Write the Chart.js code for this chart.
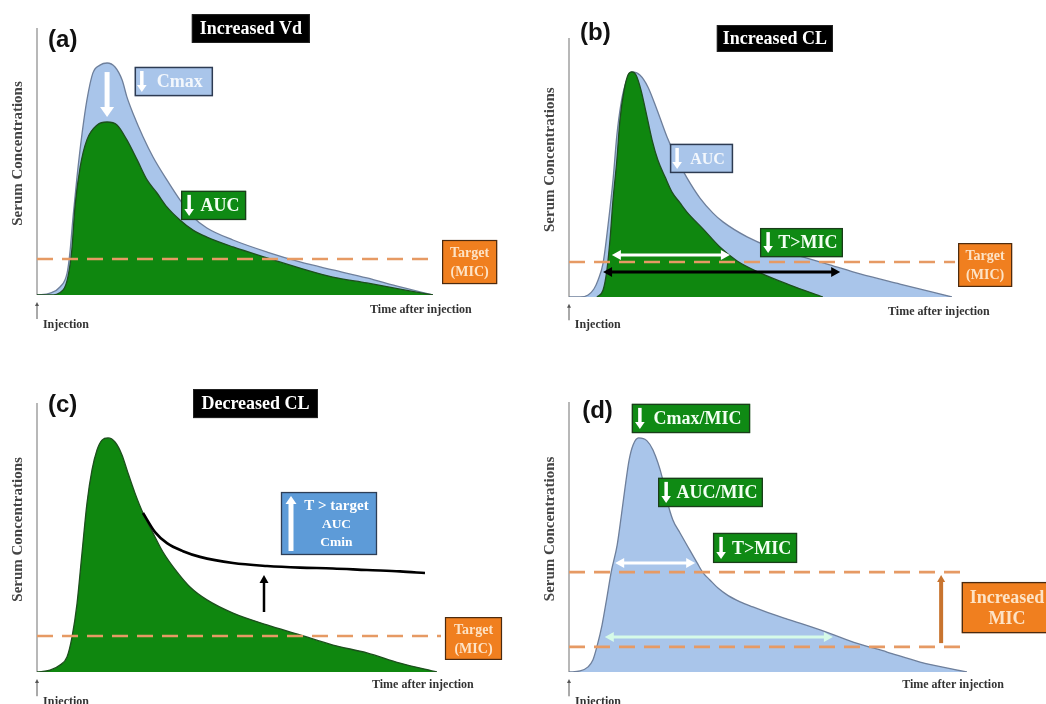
<!DOCTYPE html>
<html><head><meta charset="utf-8">
<script src="https://cdn.jsdelivr.net/npm/chart.js@4.4.1/dist/chart.umd.min.js"></script>
<style>
html,body{margin:0;padding:0;background:#fff;}
#wrap{position:relative;width:1046px;height:704px;overflow:hidden;background:#fff;}
canvas{position:absolute;}
</style></head><body>
<div id="wrap">
<canvas id="ca" width="523" height="352" style="left:0;top:0"></canvas>
<canvas id="cb" width="523" height="352" style="left:523px;top:0"></canvas>
<canvas id="cc" width="523" height="352" style="left:0;top:352px"></canvas>
<canvas id="cd" width="523" height="352" style="left:523px;top:352px"></canvas>
</div>
<script>
// ---------- DATA (time after injection, % of axis; serum concentration, % of axis) ----------
// Panel (a) Increased Vd
const aTimeBase = [0,3.3,5.8,7.6,8.3,9.1,10.1,11.4,12.6,14.1,15.9,17.7,19.7,21.5,22.7,24.2,26.8,29.3,32.8,36.1,39.4,42.9,49.5,58.1,66.4,74.7,83.3,91.7,100];
const aConcBase = [0,0.7,3.0,8.2,15.7,29.2,44.2,60.7,73.0,83.1,86.1,86.9,85.4,80.5,74.2,68.2,59.2,51.7,43.1,35.6,29.2,25.1,20.6,16.1,12.4,9.4,6.4,3.0,0];
const aTimeVd = [0,3.3,6.6,7.8,8.8,9.6,10.9,12.6,15.2,17.7,20.2,22.7,25.3,27.8,30.3,32.8,36.1,39.4,42.9,49.5,58.1,66.4,74.7,83.3,91.7,100];
const aConcVd = [0,0,1.9,6.7,16.9,33.0,47.9,58.1,63.7,64.8,63.7,58.1,50.6,43.1,38.2,33.0,28.1,24.3,21.7,18.0,13.9,10.1,6.7,4.5,2.2,0];
const aMIC = 13.5;
// Panel (b) Increased CL
const bTimeBase = [0,2.9,5.0,6.5,7.6,8.9,10.2,11.5,12.5,13.6,14.9,16.4,18.5,20.6,23.0,25.6,28.2,30.8,34.2,37.6,40.2,46.5,52.5,60.3,68.1,76.0,86.4,100];
const bConcBase = [0,0,0.8,3.1,6.6,13.1,27.8,45.2,62.5,74.9,83.0,86.9,85.7,81.1,72.2,61.8,53.2,46.0,38.2,32.4,29.0,23.2,19.3,15.8,12.4,8.9,5.0,0];
const bTimeCL = [7.3,8.9,9.9,10.7,11.5,12.5,13.3,14.4,15.4,16.4,17.5,18.8,20.1,21.7,23.2,25.1,26.9,29.0,30.8,35.0,39.4,43.9,49.9,57.7,66.3];
const bConcCL = [0,2.7,10.4,22.0,37.5,52.9,68.3,79.9,85.7,86.9,85.7,79.9,71.4,60.6,52.9,46.3,40.5,36.3,32.8,26.3,19.3,13.9,9.3,4.6,0];
const bMIC = 13.5;
// Panel (c) Decreased CL
const cTime = [0,3.25,5.75,7.5,8.75,10,11.25,12.5,13.75,15,16.25,17.75,19.5,21.25,22.5,24.5,26.5,29,31.5,35,38.25,42.5,49,57.5,65.75,74,82.5,90.75,100];
const cConc = [0,0.7,2.6,5.6,13.0,25.3,44.2,62.8,75.1,82.5,86.2,87.0,85.5,80.7,75.1,66.5,59.1,51.7,44.6,37.2,31.6,26.8,21.9,17.5,13.8,10.0,7.1,3.3,0];
const cTimeSlow = [26.5,29.5,32.5,36.5,40.75,49,57.5,65.75,74,82.5,90.75,97];
const cConcSlow = [59.1,52.0,47.9,44.9,42.8,40.5,39.4,38.8,38.5,37.9,37.4,36.8];
const cMIC = 13.4;
// Panel (d) Increased MIC
const dTime = [0,2.8,4.8,6.0,7.0,8.3,9.5,10.6,12.1,13.1,14.1,15.1,16.1,17.5,19.6,21.1,23.4,24.6,26.1,27.9,29.9,32.2,33.7,35.4,37.5,40.0,43.0,46.2,50.0,54.8,63.1,71.4,79.9,88.2,100];
const dConc = [0,0.4,1.9,4.4,9.3,17.4,27.4,37.0,47.0,57.4,68.5,78.5,84.1,86.7,85.6,82.2,72.2,63.7,56.3,51.5,46.3,40.4,36.7,34.1,31.0,28.3,26.0,24.1,22.0,19.6,15.6,11.1,7.4,3.7,0];
const dMICHigh = 37.0;
const dMICLow = 9.3;

// ---------- STYLE ----------
const GREEN = '#0f870f', GREEN_LINE = '#1d4f1d';
const BLUE = '#a9c5ea', BLUE_LINE = '#6e7f9b';
const DASH = '#e69a64';
const ORANGE = '#f07f1f';
const SERIF = '"Liberation Serif","Times New Roman",serif';
const SANS = '"Liberation Sans",Arial,sans-serif';

const zip = (t, c) => t.map((x, i) => ({x, y: c[i]}));

function area(t, c, fill, line, order) {
  return {data: zip(t, c), backgroundColor: fill, borderColor: line, borderWidth: 1.3,
          fill: 'origin', pointRadius: 0, cubicInterpolationMode: 'monotone', order};
}
function micLine(level, end) {
  return {data: [{x: 0, y: level}, {x: end, y: level}], borderColor: DASH, borderWidth: 2.6,
          borderDash: [16, 9], fill: false, pointRadius: 0, clip: false, order: 0};
}

function head(ctx, x, y, ang, len, hw) {
  ctx.beginPath();
  ctx.moveTo(x, y);
  ctx.lineTo(x - len * Math.cos(ang) + hw * Math.sin(ang), y - len * Math.sin(ang) - hw * Math.cos(ang));
  ctx.lineTo(x - len * Math.cos(ang) - hw * Math.sin(ang), y - len * Math.sin(ang) + hw * Math.cos(ang));
  ctx.closePath(); ctx.fill();
}
function arrow(ctx, x0, y0, x1, y1, color, w, len, hw, both) {
  const ang = Math.atan2(y1 - y0, x1 - x0);
  ctx.save();
  ctx.strokeStyle = color; ctx.fillStyle = color; ctx.lineWidth = w; ctx.lineCap = 'butt';
  const sx = both ? x0 + Math.cos(ang) * len * 0.8 : x0, sy = both ? y0 + Math.sin(ang) * len * 0.8 : y0;
  const ex = x1 - Math.cos(ang) * len * 0.8, ey = y1 - Math.sin(ang) * len * 0.8;
  ctx.beginPath(); ctx.moveTo(sx, sy); ctx.lineTo(ex, ey); ctx.stroke();
  head(ctx, x1, y1, ang, len, hw);
  if (both) head(ctx, x0, y0, ang + Math.PI, len, hw);
  ctx.restore();
}
function drawBox(ctx, X, Y, b) {
  const x0 = X(b.t0), x1 = X(b.t1), y0 = Y(b.c0), y1 = Y(b.c1);
  ctx.save();
  ctx.fillStyle = b.fill; ctx.fillRect(x0, y0, x1 - x0, y1 - y0);
  if (b.stroke) { ctx.strokeStyle = b.stroke; ctx.lineWidth = b.lw || 1.5; ctx.strokeRect(x0 + 0.5, y0 + 0.5, x1 - x0 - 1, y1 - y0 - 1); }
  let tx0 = x0;
  if (b.glyph) {
    const gx = x0 + (b.gx || 8);
    const top = y0 + 4, bot = y1 - 4;
    const gw = b.gw || 3.5;
    if (b.glyph === 'down') arrow(ctx, gx, top, gx, bot, b.gcolor || '#fff', gw, 7, 4.8, false);
    else arrow(ctx, gx, bot, gx, top, b.gcolor || '#fff', gw, 8, 5.5, false);
    tx0 = gx + 5;
  }
  ctx.fillStyle = b.color; ctx.textAlign = 'center'; ctx.textBaseline = 'middle';
  const cx = (tx0 + x1) / 2 + (b.dx || 0);
  const n = b.lines.length, lh = b.lh || b.size * 1.15, cy = (y0 + y1) / 2;
  b.lines.forEach((s, i) => {
    const sz = b.sizes ? b.sizes[i] : b.size;
    ctx.font = `bold ${sz}px ${SERIF}`;
    ctx.fillText(s, cx, cy + (i - (n - 1) / 2) * lh + 1);
  });
  ctx.restore();
}

function panelPlugin(spec) {
  return {
    id: 'extras',
    beforeDatasetsDraw(chart) {
      const ctx = chart.ctx, xs = chart.scales.x, ys = chart.scales.y;
      ctx.save();
      ctx.strokeStyle = '#a0a0a0'; ctx.lineWidth = 1.5;
      ctx.beginPath(); ctx.moveTo(xs.getPixelForValue(0), ys.getPixelForValue(100));
      ctx.lineTo(xs.getPixelForValue(0), ys.getPixelForValue(0)); ctx.stroke();
      ctx.restore();
    },
    afterDraw(chart) {
      const ctx = chart.ctx, xs = chart.scales.x, ys = chart.scales.y;
      const X = t => xs.getPixelForValue(t), Y = c => ys.getPixelForValue(c);
      ctx.save();
      // axis title
      ctx.save();
      ctx.translate(X(0) - 19, Y(53)); ctx.rotate(-Math.PI / 2);
      ctx.fillStyle = '#444'; ctx.font = `bold 15px ${SERIF}`; ctx.textAlign = 'center'; ctx.textBaseline = 'middle';
      ctx.fillText('Serum Concentrations', 0, 0);
      ctx.restore();
      // injection marker
      arrow(ctx, X(0), Y(-9), X(0), Y(-2.6), '#555', 1, 4, 2, false);
      ctx.fillStyle = '#333'; ctx.textBaseline = 'middle'; ctx.textAlign = 'left';
      ctx.font = `bold 12px ${SERIF}`;
      ctx.fillText('Injection', X(1.5), Y(spec.injC));
      ctx.fillText('Time after injection', X(spec.timeT), Y(spec.timeC));
      // panel letter
      ctx.fillStyle = '#111'; ctx.font = `bold 24px ${SANS}`;
      ctx.fillText(spec.letter, X(spec.letterT), Y(spec.letterC));
      // items
      spec.items.forEach(it => {
        if (it.type === 'box') drawBox(ctx, X, Y, it);
        else if (it.type === 'arrow') arrow(ctx, X(it.t0), Y(it.c0), X(it.t1), Y(it.c1), it.color, it.w, it.len, it.hw, it.both);
      });
      ctx.restore();
    }
  };
}

function makeChart(id, pad, datasets, spec) {
  return new Chart(document.getElementById(id), {
    type: 'line',
    data: {datasets},
    options: {
      responsive: false, animation: false, devicePixelRatio: 1,
      layout: {padding: pad},
      plugins: {legend: {display: false}, tooltip: {enabled: false}},
      scales: {
        x: {type: 'linear', min: 0, max: 100, display: false},
        y: {type: 'linear', min: 0, max: 100, display: false}
      },
      elements: {point: {radius: 0}}
    },
    plugins: [panelPlugin(spec)]
  });
}

const titleBox = (t0, t1, c0, c1, text) => ({type: 'box', t0, t1, c0, c1, fill: '#000', stroke: '#222', lw: 1, lines: [text], size: 18, color: '#fff'});
const targetBox = (t0, t1, c0, c1) => ({type: 'box', t0, t1, c0, c1, fill: ORANGE, stroke: '#4a2a10', lw: 1.2, lines: ['Target', '(MIC)'], size: 14, lh: 19, color: '#fde3c6'});
const greenBox = (t0, t1, c0, c1, text, size) => ({type: 'box', t0, t1, c0, c1, fill: '#0f8a14', stroke: '#1a3d1a', lw: 1.3, lines: [text], size: size || 18, color: '#f2fff2', glyph: 'down', gx: 8});
const blueLabel = (t0, t1, c0, c1, text, size) => ({type: 'box', t0, t1, c0, c1, fill: BLUE, stroke: '#2d3b52', lw: 1.5, lines: [text], size: size || 18, color: '#f3f7fc', glyph: 'down', gx: 7});

// (a)
makeChart('ca', {left: 37, top: 28, right: 90, bottom: 57}, [
  micLine(aMIC, 100.5),
  area(aTimeVd, aConcVd, GREEN, GREEN_LINE, 2),
  area(aTimeBase, aConcBase, BLUE, BLUE_LINE, 3)
], {
  letter: '(a)', letterT: 2.8, letterC: 95.5, injC: -11.2, timeT: 84.1, timeC: -5.6,
  items: [
    titleBox(39.1, 68.9, 105.2, 94.4, 'Increased Vd'),
    blueLabel(24.7, 44.4, 85.4, 74.5, 'Cmax', 18),
    {type: 'arrow', t0: 17.7, c0: 83.5, t1: 17.7, c1: 66.7, color: '#fff', w: 5, len: 10, hw: 7},
    greenBox(36.4, 52.8, 39.0, 28.1, 'AUC', 18),
    targetBox(102.3, 116.2, 20.6, 4.1)
  ]
});

// (b)
makeChart('cb', {left: 46, top: 38, right: 94, bottom: 55}, [
  micLine(bMIC, 100.8),
  area(bTimeCL, bConcCL, GREEN, GREEN_LINE, 2),
  area(bTimeBase, bConcBase, BLUE, BLUE_LINE, 3)
], {
  letter: '(b)', letterT: 2.9, letterC: 101.9, injC: -10.8, timeT: 83.3, timeC: -5.8,
  items: [
    titleBox(38.6, 68.9, 105.0, 94.6, 'Increased CL'),
    blueLabel(26.4, 42.8, 59.1, 47.9, 'AUC', 16),
    greenBox(49.9, 71.5, 26.6, 15.4, 'T>MIC', 18),
    {type: 'arrow', t0: 11.2, c0: 16.2, t1: 42.0, c1: 16.2, color: '#fff', w: 3, len: 9, hw: 5, both: true},
    {type: 'arrow', t0: 8.9, c0: 9.7, t1: 70.8, c1: 9.7, color: '#000', w: 3, len: 9, hw: 5, both: true},
    targetBox(101.6, 115.7, 20.8, 3.9)
  ]
});

// (c)
makeChart('cc', {left: 37, top: 51, right: 86, bottom: 32}, [
  micLine(cMIC, 101),
  {data: zip(cTimeSlow, cConcSlow), borderColor: '#000', borderWidth: 2.6, fill: false, pointRadius: 0, cubicInterpolationMode: 'monotone', order: 1},
  area(cTime, cConc, GREEN, GREEN_LINE, 2)
], {
  letter: '(c)', letterT: 2.75, letterC: 99.3, injC: -11.2, timeT: 83.75, timeC: -4.8,
  items: [
    titleBox(39, 70.25, 105.2, 94.4, 'Decreased CL'),
    {type: 'box', t0: 61, t1: 85, c0: 66.9, c1: 43.5, fill: '#5d9bd8', stroke: '#2e3e56', lw: 1.3,
     lines: ['T > target', 'AUC', 'Cmin'], sizes: [15, 13.5, 13.5], lh: 18, color: '#fff', glyph: 'up', gx: 10, gw: 5},
    {type: 'arrow', t0: 56.75, c0: 22.3, t1: 56.75, c1: 36.1, color: '#000', w: 2.5, len: 8, hw: 4.5},
    targetBox(102, 116.25, 20.4, 4.5)
  ]
});

// (d)
makeChart('cd', {left: 46, top: 50, right: 79, bottom: 32}, [
  micLine(dMICHigh, 100.3),
  micLine(dMICLow, 100.3),
  area(dTime, dConc, BLUE, BLUE_LINE, 3)
], {
  letter: '(d)', letterT: 3.3, letterC: 96.7, injC: -11.1, timeT: 83.7, timeC: -4.8,
  items: [
    greenBox(15.8, 45.5, 99.3, 88.5, 'Cmax/MIC', 18),
    greenBox(22.4, 48.7, 71.9, 61.1, 'AUC/MIC', 18),
    greenBox(36.2, 57.3, 51.5, 40.4, 'T>MIC', 18),
    {type: 'arrow', t0: 11.6, c0: 40.4, t1: 31.7, c1: 40.4, color: '#fff', w: 3, len: 9, hw: 5, both: true},
    {type: 'arrow', t0: 9.0, c0: 13.0, t1: 66.3, c1: 13.0, color: '#d6fbe8', w: 3, len: 9, hw: 5, both: true},
    {type: 'arrow', t0: 93.5, c0: 10.7, t1: 93.5, c1: 35.9, color: '#c8742f', w: 4, len: 7, hw: 4},
    {type: 'box', t0: 98.7, t1: 121.4, c0: 33.3, c1: 14.4, fill: ORANGE, stroke: '#4a2a10', lw: 1.3,
     lines: ['Increased', 'MIC'], size: 18, lh: 21, color: '#fde3c6'}
  ]
});
</script>
</body></html>
